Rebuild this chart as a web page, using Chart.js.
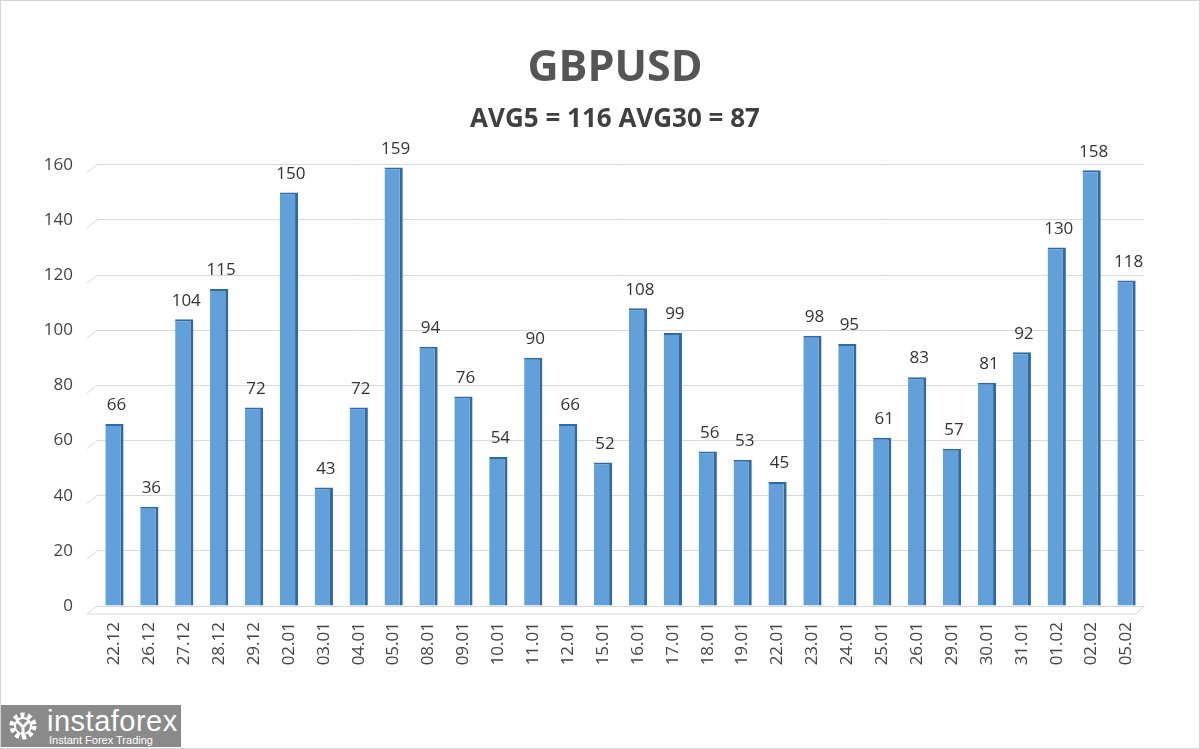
<!DOCTYPE html>
<html>
<head>
<meta charset="utf-8">
<script src="https://cdn.jsdelivr.net/npm/chart.js@4"></script>
<style>
	html, body { margin: 0; padding: 0; background: #fff; }
	#wrap { position: relative; width: 1200px; height: 749px; box-sizing: border-box; border: 1px solid #d4d4d4; }
	#logo {
		position: absolute; left: 0; top: 704px; width: 180px; height: 42px;
		background: #8a8a8a; color: #fff; font-family: "Liberation Sans", Arial, sans-serif;
	}
	#logo .big { position: absolute; left: 46px; top: 0px; font-size: 29px; letter-spacing: 0.5px; }
	#logo .small { position: absolute; left: 48px; top: 29px; font-size: 11px; }
	#logo .gear { position: absolute; left: 6px; top: 5px; width: 32px; height: 32px; }
</style>
</head>
<body>
<div id="wrap">
	<canvas id="myChart" width="1198" height="747"></canvas>
	<div id="logo">
		<svg class="gear" viewBox="0 0 32 32">
			<circle cx="16" cy="16" r="11" fill="none" stroke="#fff" stroke-width="5" stroke-dasharray="4 3"/>
			<circle cx="16" cy="16" r="8" fill="none" stroke="#fff" stroke-width="2"/>
			<path d="M10 11 L16 17 L22 11 M16 17 L16 27" stroke="#fff" stroke-width="3" fill="none"/>
		</svg>
		<span class="big">instaforex</span>
		<span class="small">Instant Forex Trading</span>
	</div>
</div>
<script>
//categories along the bottom
let labels = ["22.12", "26.12", "27.12", "28.12", "29.12", "02.01", "03.01", "04.01", "05.01", "08.01",
	"09.01", "10.01", "11.01", "12.01", "15.01", "16.01", "17.01", "18.01", "19.01", "22.01",
	"23.01", "24.01", "25.01", "26.01", "29.01", "30.01", "31.01", "01.02", "02.02", "05.02"];
//daily ranges in points
let values = [66, 36, 104, 115, 72, 150, 43, 72, 159, 94,
	76, 54, 90, 66, 52, 108, 99, 56, 53, 45,
	98, 95, 61, 83, 57, 81, 92, 130, 158, 118];
let yTicks = [0, 20, 40, 60, 80, 100, 120, 140, 160];
let titleText = "GBPUSD";
let subtitleText = "AVG5 = 116 AVG30 = 87";

//gradient for the bars, goes left to right on each bar
function barFill(context) {
	let chart = context.chart;
	let el = chart.getDatasetMeta(0).data[context.dataIndex];
	if (!el || !isFinite(el.x) || !isFinite(el.width)) return "#62a0da";
	let half = el.width / 2;
	let g = chart.ctx.createLinearGradient(el.x - half, 0, el.x + half, 0);
	g.addColorStop(0, "#86b9e6");
	g.addColorStop(0.5, "#64a3dc");
	g.addColorStop(1, "#4f90cf");
	return g;
}

//prints the number above each bar
const valueLabels = {
	id: "valueLabels",
	afterDatasetsDraw(chart) {
		let ctx = chart.ctx;
		let meta = chart.getDatasetMeta(0);
		ctx.save();
		ctx.font = "17px 'Open Sans', sans-serif";
		ctx.fillStyle = "#333";
		ctx.textAlign = "center";
		ctx.textBaseline = "bottom";
		meta.data.forEach((bar, i) => {
			ctx.fillText(values[i], bar.x + 2, bar.y - 10);
		});
		ctx.restore();
	}
};

//the little slanted bits at the left of the grid lines
const slantGrid = {
	id: "slantGrid",
	beforeDatasetsDraw(chart) {
		let ctx = chart.ctx;
		let y = chart.scales.y;
		let left = chart.chartArea.left;
		ctx.save();
		ctx.strokeStyle = "#d9d9d9";
		ctx.lineWidth = 1;
		yTicks.forEach((t) => {
			let py = y.getPixelForValue(t);
			ctx.beginPath();
			ctx.moveTo(left - 10, py + 8);
			ctx.lineTo(left, py);
			ctx.stroke();
		});
		//floor
		let py0 = y.getPixelForValue(0);
		ctx.beginPath();
		ctx.moveTo(left - 10, py0 + 8);
		ctx.lineTo(chart.chartArea.right - 8, py0 + 8);
		ctx.lineTo(chart.chartArea.right, py0);
		ctx.stroke();
		ctx.restore();
	}
};

let ctx = document.getElementById("myChart").getContext("2d");
var myChart = new Chart(ctx, {
	type: "bar",
	data: {
		labels: labels,
		datasets: [
			{
				data: values,
				backgroundColor: barFill,
				borderColor: "#2f6aa6",
				borderWidth: { left: 0, right: 3, top: 2, bottom: 0 },
				borderSkipped: false,
				barPercentage: 0.55,
				categoryPercentage: 0.95,
			},
		],
	},
	options: {
		responsive: false,
		animation: false,
		layout: { padding: { left: 30, right: 0, top: 0, bottom: 0 } },
		plugins: {
			legend: { display: false },
			tooltip: { enabled: false },
			title: {
				display: true,
				text: titleText,
				color: "#555",
				font: { family: "'Open Sans', sans-serif", size: 43, weight: "bold" },
				padding: { top: 42, bottom: 7 },
			},
			subtitle: {
				display: true,
				text: subtitleText,
				color: "#404040",
				font: { family: "'Open Sans', sans-serif", size: 26, weight: "bold" },
				padding: { top: 2, bottom: 30 },
			},
		},
		scales: {
			x: {
				grid: { display: false },
				border: { display: false },
				ticks: {
					color: "#444",
					font: { family: "'Open Sans', sans-serif", size: 17 },
					minRotation: 90,
					maxRotation: 90,
					autoSkip: false,
					padding: 8,
				},
				afterFit(scale) { scale.height = 142; },
			},
			y: {
				min: 0,
				max: 160,
				afterBuildTicks(scale) { scale.ticks = yTicks.map((v) => ({ value: v })); },
				grid: { color: "#d9d9d9", drawTicks: false },
				border: { display: false },
				ticks: {
					color: "#444",
					font: { family: "'Open Sans', sans-serif", size: 17 },
					padding: 24,
				},
				afterFit(scale) { scale.width = 66; },
			},
			//empty axis on the right, only there to keep the gap
			yRight: {
				position: "right",
				display: true,
				grid: { display: false },
				border: { display: false },
				ticks: { display: false },
				afterFit(scale) { scale.width = 55; },
			},
		},
	},
	plugins: [slantGrid, valueLabels],
});
</script>
</body>
</html>
